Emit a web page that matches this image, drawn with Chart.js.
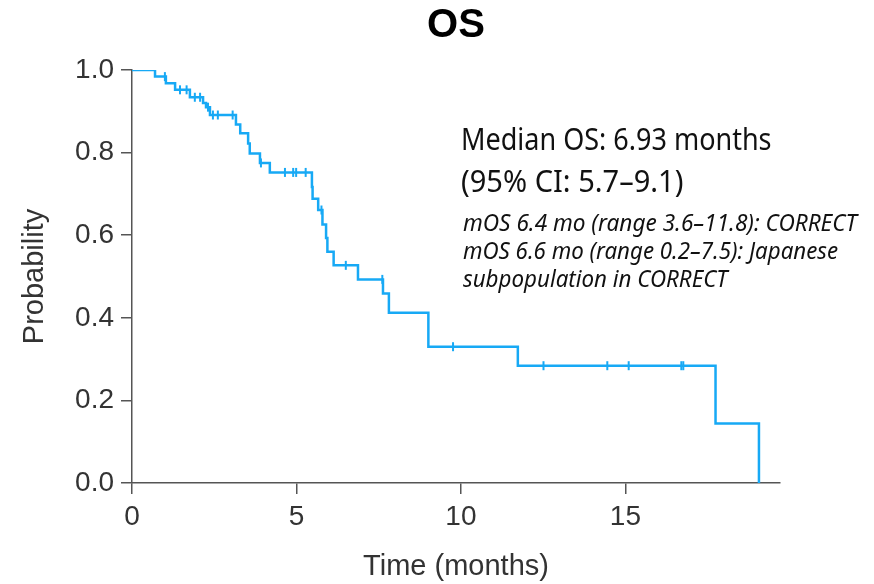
<!DOCTYPE html>
<html>
<head>
<meta charset="utf-8">
<script src="https://cdn.jsdelivr.net/npm/chart.js@4.4.0/dist/chart.umd.min.js"></script>
<style>
  html, body { margin: 0; padding: 0; background: #fff; }
  #wrap { position: relative; width: 874px; height: 584px; }
  .note {
    position: absolute;
    white-space: nowrap;
    color: #111;
    font-family: "Noto Sans", "Open Sans", sans-serif;
    transform-origin: 0 0;
  }
  .big { font-size: 31px; }
  .small { font-size: 23px; font-style: italic; }
</style>
</head>
<body>
<div id="wrap">
  <canvas id="osChart" width="874" height="584"></canvas>
  <div class="note big" data-w="311" style="left:461px; top:117px;">Median OS: 6.93 months</div>
  <div class="note big" data-w="222" style="left:461px; top:159px;">(95% CI: 5.7–9.1)</div>
  <div class="note small" data-w="394" style="left:463px; top:206px;">mOS 6.4 mo (range 3.6–11.8): CORRECT</div>
  <div class="note small" data-w="375" style="left:463px; top:234px;">mOS 6.6 mo (range 0.2–7.5): Japanese</div>
  <div class="note small" data-w="264" style="left:463px; top:262px;">subpopulation in CORRECT</div>
</div>
<script>
// courbe KM (temps de l'événement, survie après la marche)
const eventTimes = [0, 0.70, 1.03, 1.31, 1.76, 2.16, 2.25, 2.37, 3.16, 3.29, 3.53, 3.58, 3.89, 4.19,
  5.47, 5.49, 5.66, 5.79, 5.90, 5.94, 6.13, 6.87, 7.63, 7.81, 9.01, 11.73, 17.74, 19.06];
const survival = [1.0, 0.984, 0.968, 0.952, 0.934, 0.920, 0.910, 0.891, 0.868, 0.847, 0.822, 0.798, 0.775, 0.752,
  0.717, 0.688, 0.661, 0.626, 0.593, 0.560, 0.527, 0.493, 0.459, 0.412, 0.330, 0.284, 0.144, 0.0];

// censures
const censorTimes = [1.00, 1.46, 1.66, 1.91, 2.07, 2.31, 2.46, 2.61, 3.06, 3.92, 4.65, 4.90, 4.99, 5.28,
  5.76, 6.50, 7.61, 9.76, 12.51, 14.45, 15.10, 16.70, 16.76];
const censorSurv = [0.984, 0.952, 0.952, 0.934, 0.934, 0.910, 0.891, 0.891, 0.891, 0.775, 0.752, 0.752, 0.752, 0.752,
  0.661, 0.527, 0.493, 0.330, 0.284, 0.284, 0.284, 0.284, 0.284];

const xTicks = [0, 5, 10, 15];
const yTicks = [0, 0.2, 0.4, 0.6, 0.8, 1.0];

const blue = "#17a9f5";
const axisGray = "#555";
const textGray = "#333";
const font = "'Liberation Sans', Arial, sans-serif";

// texte condensé : on resserre chaque ligne à la largeur voulue
document.querySelectorAll(".note").forEach((el) => {
  const target = parseFloat(el.dataset.w);
  el.style.transform = "scaleX(" + (target / el.offsetWidth).toFixed(3) + ")";
});

// titre centré sur la zone du graphique
const titlePlugin = {
  id: "osTitle",
  afterDraw(chart) {
    const { ctx, chartArea } = chart;
    ctx.save();
    ctx.font = "bold 40px " + font;
    ctx.fillStyle = "#000";
    ctx.textAlign = "center";
    ctx.textBaseline = "middle";
    ctx.fillText("OS", (chartArea.left + chartArea.right) / 2, 26);
    ctx.restore();
  },
};

new Chart(document.getElementById("osChart"), {
  type: "scatter",
  data: {
    datasets: [
      {
        label: "OS",
        data: eventTimes.map((t, i) => ({ x: t, y: survival[i] })),
        showLine: true,
        stepped: "before",
        borderColor: blue,
        borderWidth: 2.5,
        pointRadius: 0,
        fill: false,
      },
      {
        label: "Censure",
        data: censorTimes.map((t, i) => ({ x: t, y: censorSurv[i] })),
        showLine: false,
        pointStyle: "line",
        rotation: 90,
        pointRadius: 4.5,
        borderColor: blue,
        backgroundColor: blue,
        pointBorderWidth: 2,
      },
    ],
  },
  options: {
    responsive: false,
    animation: false,
    layout: { padding: { top: 70, right: 94, left: 0, bottom: 0 } },
    plugins: {
      legend: { display: false },
      tooltip: { enabled: false },
      title: { display: false },
    },
    scales: {
      x: {
        type: "linear",
        min: 0,
        max: 19.7,
        afterBuildTicks: (axis) => { axis.ticks = xTicks.map((v) => ({ value: v })); },
        afterFit: (axis) => { axis.height = 101; },
        grid: { display: true, drawOnChartArea: false, drawTicks: true, tickLength: 11, color: axisGray, lineWidth: 1.5 },
        border: { display: true, color: axisGray, width: 1.5 },
        ticks: { color: textGray, font: { size: 28, family: font }, padding: 6, maxRotation: 0 },
        title: { display: true, text: "Time (months)", color: textGray, font: { size: 29, family: font }, padding: { top: 10, bottom: 0 } },
      },
      y: {
        type: "linear",
        min: 0,
        max: 1,
        afterBuildTicks: (axis) => { axis.ticks = yTicks.map((v) => ({ value: v })); },
        afterFit: (axis) => { axis.width = 132; },
        grid: { display: true, drawOnChartArea: false, drawTicks: true, tickLength: 11, color: axisGray, lineWidth: 1.5 },
        border: { display: true, color: axisGray, width: 1.5 },
        ticks: { color: textGray, font: { size: 28, family: font }, padding: 7, callback: (v) => v.toFixed(1) },
        title: { display: true, text: "Probability", color: textGray, font: { size: 29, family: font }, padding: { top: 18, bottom: 0 } },
      },
    },
  },
  plugins: [titlePlugin],
});
</script>
</body>
</html>
